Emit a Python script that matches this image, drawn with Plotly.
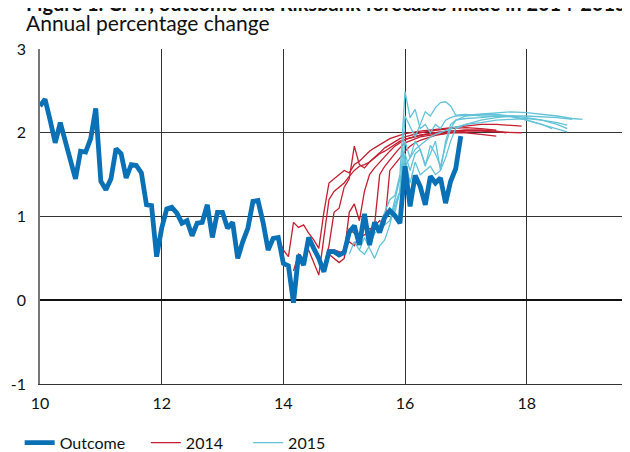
import plotly.graph_objects as go

# CPIF outcome, monthly from Jan 2010 (annual percentage change)
OUTCOME_START = 0
outcome = [
    2.32, 2.40, 2.15, 1.88, 2.12, 1.90, 1.68, 1.45, 1.78, 1.77, 1.93, 2.29,
    1.42, 1.32, 1.45, 1.81, 1.75, 1.46, 1.62, 1.61, 1.52, 1.14, 1.13, 0.52,
    0.86, 1.09, 1.11, 1.04, 0.92, 0.95, 0.77, 0.92, 0.93, 1.14, 0.75, 1.05,
    1.05, 0.86, 0.93, 0.50, 0.70, 0.86, 1.18, 1.19, 0.93, 0.60, 0.74, 0.75,
    0.44, 0.41, -0.03, 0.54, 0.42, 0.75, 0.62, 0.50, 0.34, 0.58, 0.58, 0.54,
    0.57, 0.81, 0.89, 0.66, 1.03, 0.66, 0.93, 0.81, 0.99, 1.07, 1.01, 0.92,
    1.60, 1.12, 1.49, 1.36, 1.14, 1.48, 1.40, 1.46, 1.16, 1.42, 1.57, 1.96,
]

# forecasts: month index (0 = Jan 2010) and value
f2014_months = [
    [47, 48, 49, 50, 51, 52, 53, 54, 55, 56, 57, 58, 59, 60, 61, 62, 63, 64, 65, 66, 67, 68, 69, 70, 71, 72, 75, 78, 81, 84, 87, 90, 93, 95],
    [50, 51, 52, 53, 54, 55, 56, 57, 58, 59, 60, 61, 62, 63, 64, 65, 66, 67, 68, 69, 70, 71, 72, 75, 78, 81, 84, 87, 90, 92],
    [53, 54, 55, 56, 57, 58, 59, 60, 61, 62, 63, 64, 65, 66, 67, 68, 69, 70, 71, 72, 75, 78, 81, 84, 87, 90],
    [56, 57, 58, 59, 60, 61, 62, 63, 64, 65, 66, 67, 68, 69, 70, 71, 72, 75, 78, 81, 84, 87, 89],
    [57, 58, 59, 60, 61, 62, 63, 64, 65, 66, 67, 68, 69, 70, 71, 72, 75, 78, 81, 84, 87, 90],
    [59, 60, 61, 62, 63, 64, 65, 66, 67, 68, 69, 70, 71, 72, 73, 74, 75, 78, 81, 84, 87, 90, 95],
]
f2014_values = [
    [0.75, 0.60, 0.52, 0.93, 0.87, 0.90, 0.80, 0.72, 0.62, 1.05, 1.40, 1.45, 1.50, 1.55, 1.52, 1.62, 1.66, 1.72, 1.78, 1.82, 1.86, 1.90, 1.93, 1.95, 1.97, 1.99, 2.02, 2.04, 2.06, 2.08, 2.10, 2.10, 2.09, 2.08],
    [0.35, 0.55, 0.50, 0.60, 0.45, 0.30, 0.75, 1.20, 1.30, 1.35, 1.40, 1.48, 1.55, 1.60, 1.62, 1.65, 1.70, 1.75, 1.78, 1.82, 1.86, 1.90, 1.92, 1.97, 2.00, 2.02, 2.03, 2.03, 2.02, 2.00],
    [0.72, 0.60, 0.50, 0.40, 0.65, 1.05, 1.10, 1.35, 1.45, 1.84, 1.62, 1.58, 1.65, 1.70, 1.76, 1.82, 1.86, 1.90, 1.93, 1.95, 2.00, 2.03, 2.05, 2.06, 2.05, 2.03],
    [0.35, 0.60, 0.60, 0.58, 0.55, 1.05, 1.15, 0.95, 1.30, 1.50, 1.58, 1.65, 1.72, 1.78, 1.84, 1.88, 1.92, 1.97, 2.00, 2.02, 2.03, 2.03, 2.02],
    [0.55, 0.50, 0.45, 0.50, 0.85, 0.80, 0.75, 0.78, 0.82, 0.90, 1.50, 1.60, 1.68, 1.75, 1.82, 1.88, 1.95, 1.98, 2.00, 2.00, 1.98, 1.96],
    [0.55, 0.60, 0.70, 0.65, 0.78, 0.90, 0.85, 0.88, 0.95, 0.90, 1.55, 1.62, 1.70, 1.78, 1.84, 1.88, 1.91, 1.97, 2.00, 2.02, 2.02, 2.01, 2.00],
]

f2015_months = [
    [61, 62, 63, 64, 65, 66, 67, 68, 69, 70, 71, 72, 73, 74, 75, 76, 77, 78, 81, 84, 87, 90, 93, 96, 99, 102, 105],
    [63, 64, 65, 66, 67, 68, 69, 70, 71, 72, 73, 74, 75, 76, 77, 78, 79, 80, 81, 82, 84, 87, 90, 93, 96, 99, 102, 104],
    [66, 67, 68, 69, 70, 71, 72, 73, 74, 75, 76, 77, 78, 79, 80, 81, 82, 84, 87, 90, 93, 96, 99, 102, 105, 107],
    [68, 69, 70, 71, 72, 73, 74, 75, 76, 77, 78, 79, 80, 81, 82, 84, 87, 90, 93, 96, 99, 101],
    [69, 70, 71, 72, 73, 74, 75, 76, 77, 78, 79, 80, 81, 82, 84, 87, 90, 93, 96, 99, 102, 104],
    [71, 72, 73, 74, 75, 76, 77, 78, 79, 80, 81, 82, 84, 87, 90, 93, 96, 99, 102, 104],
]
f2015_values = [
    [0.55, 0.70, 0.60, 0.55, 0.65, 0.80, 0.85, 0.90, 0.95, 1.20, 1.45, 1.60, 1.70, 1.80, 1.85, 1.90, 1.95, 1.98, 2.05, 2.10, 2.15, 2.18, 2.20, 2.20, 2.19, 2.18, 2.16],
    [0.60, 0.75, 0.62, 0.50, 0.65, 0.72, 0.90, 1.15, 1.30, 1.75, 1.55, 1.75, 1.80, 1.62, 1.75, 1.90, 1.55, 1.90, 2.10, 2.15, 2.20, 2.22, 2.22, 2.20, 2.15, 2.10, 2.05, 2.01],
    [0.85, 0.90, 1.05, 1.20, 1.25, 1.50, 2.49, 2.18, 2.28, 2.05, 2.10, 2.00, 2.10, 2.05, 2.15, 2.18, 2.20, 2.21, 2.22, 2.24, 2.25, 2.24, 2.22, 2.20, 2.17, 2.16],
    [0.95, 1.10, 1.05, 1.30, 2.20, 2.07, 1.95, 2.10, 2.25, 2.20, 2.30, 2.36, 2.37, 2.32, 2.21, 2.22, 2.20, 2.20, 2.19, 2.15, 2.10, 2.05],
    [0.95, 1.10, 1.30, 1.90, 1.70, 1.90, 1.80, 1.60, 1.85, 1.75, 1.60, 1.85, 2.05, 2.15, 2.17, 2.18, 2.20, 2.20, 2.18, 2.15, 2.12, 2.09],
    [0.95, 1.70, 1.40, 1.65, 1.50, 1.55, 1.60, 1.50, 1.55, 1.70, 1.90, 2.05, 2.10, 2.12, 2.15, 2.16, 2.17, 2.15, 2.10, 2.05],
]

x_ticks = [10, 12, 14, 16, 18]
y_ticks = [-1, 0, 1, 2, 3]

BLUE = "#0a71b6"
RED = "#c41e30"
CYAN = "#62c3d8"
FONT = "Lato"


def to_year(months):
    return [10 + m / 12 for m in months]


fig = go.Figure()

for idx, (months, values) in enumerate(zip(f2014_months, f2014_values)):
    fig.add_trace(
        go.Scatter(
            x=to_year(months), y=values, mode="lines", name="2014",
            line=dict(color=RED, width=1.3), legendgroup="2014",
            showlegend=idx == 0, legend="legend2",
        )
    )

for idx, (months, values) in enumerate(zip(f2015_months, f2015_values)):
    fig.add_trace(
        go.Scatter(
            x=to_year(months), y=values, mode="lines", name="2015",
            line=dict(color=CYAN, width=1.3), legendgroup="2015",
            showlegend=idx == 0, legend="legend3",
        )
    )

fig.add_trace(
    go.Scatter(
        x=to_year(range(OUTCOME_START, OUTCOME_START + len(outcome))),
        y=outcome, mode="lines", name="Outcome",
        line=dict(color=BLUE, width=4.8), legend="legend",
    )
)

legend_style = dict(
    orientation="h", xanchor="left", y=-0.175, yanchor="middle",
    font=dict(size=16), bgcolor="rgba(0,0,0,0)",
)

fig.update_layout(
    width=630,
    height=452,
    margin=dict(l=32, r=0, t=41, b=71),
    plot_bgcolor="white",
    paper_bgcolor="white",
    font=dict(family=FONT, size=16, color="#111"),
    showlegend=True,
    legend=dict(x=-0.034, **legend_style),
    legend2=dict(x=0.177, **legend_style),
    legend3=dict(x=0.348, **legend_style),
    annotations=[
        dict(
            text="<b>Figure 1. CPIF, outcome and Riksbank forecasts made in 2014-2015</b>",
            xref="paper", yref="paper", x=-0.027, y=1.137, xanchor="left", yanchor="middle",
            showarrow=False, font=dict(size=20),
        ),
        dict(
            text="Annual percentage change",
            xref="paper", yref="paper", x=-0.027, y=1.078, xanchor="left", yanchor="middle",
            showarrow=False, font=dict(size=21),
        ),
    ],
)

fig.update_xaxes(
    range=[10, 19.83], tickvals=x_ticks, showgrid=True, gridcolor="#333", gridwidth=1,
    zeroline=False, showline=True, linecolor="#333", linewidth=1.2, ticks="",
    tickfont=dict(size=16), ticklabelstandoff=5,
)
fig.update_yaxes(
    range=[-1, 3], tickvals=y_ticks, ticktext=[str(v) for v in y_ticks],
    showgrid=True, gridcolor="#333", gridwidth=1,
    zeroline=True, zerolinecolor="#111", zerolinewidth=2, showline=True,
    linecolor="#777", linewidth=1.5, ticks="", tickfont=dict(size=16),
    ticklabelstandoff=9,
)

fig.write_html("out.html")
